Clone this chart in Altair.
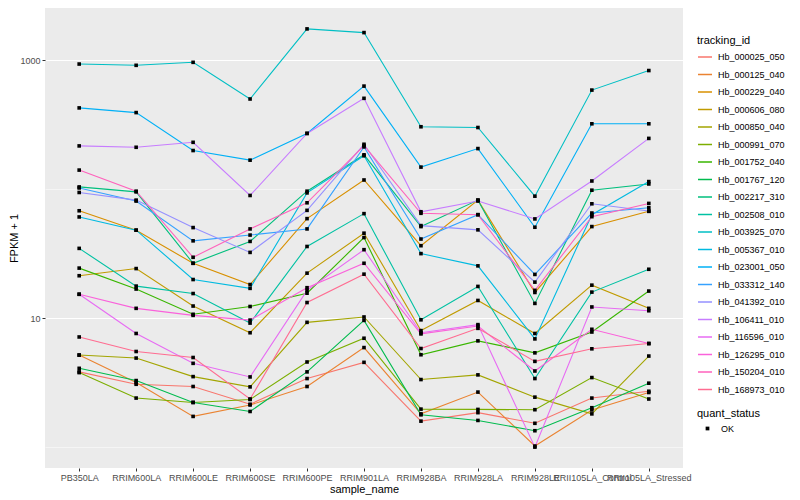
import altair as alt
import pandas as pd

samples = ["PB350LA", "RRIM600LA", "RRIM600LE", "RRIM600SE", "RRIM600PE", "RRIM901LA",
           "RRIM928BA", "RRIM928LA", "RRIM928LE", "RRII105LA_Control", "RRII105LA_Stressed"]

tracking_ids = ["Hb_000025_050", "Hb_000125_040", "Hb_000229_040", "Hb_000606_080",
                "Hb_000850_040", "Hb_000991_070", "Hb_001752_040", "Hb_001767_120",
                "Hb_002217_310", "Hb_002508_010", "Hb_003925_070", "Hb_005367_010",
                "Hb_023001_050", "Hb_033312_140", "Hb_041392_010", "Hb_106411_010",
                "Hb_116596_010", "Hb_126295_010", "Hb_150204_010", "Hb_168973_010"]

# FPKM + 1 per sample (order of `samples`)
hb_000025_050 = [3.83, 3.07, 2.95, 2.15, 3.40, 4.54, 1.59, 1.85, 1.53, 2.40, 2.71]
hb_000125_040 = [5.17, 3.17, 1.73, 2.12, 2.95, 5.91, 1.81, 2.67, 1.02, 1.94, 2.65]
hb_000229_040 = [67.9, 48.0, 26.6, 18.2, 59.0, 117.6, 36.4, 82.1, 15.8, 51.2, 67.2]
hb_000606_080 = [21.3, 24.2, 12.4, 7.7, 22.3, 45.5, 8.0, 13.7, 7.6, 18.0, 11.9]
hb_000850_040 = [5.17, 4.90, 3.52, 2.93, 9.27, 10.2, 3.34, 3.63, 2.44, 1.81, 5.08]
hb_000991_070 = [3.78, 2.40, 2.22, 2.34, 4.57, 6.98, 1.97, 1.96, 1.95, 3.46, 2.36]
hb_001752_040 = [24.4, 16.8, 10.7, 12.3, 15.6, 42.1, 5.2, 6.66, 5.38, 7.8, 16.2]
hb_001767_120 = [4.08, 3.28, 2.22, 1.89, 3.83, 9.6, 1.78, 1.61, 1.34, 2.02, 3.13]
hb_002217_310 = [103.9, 95.1, 26.6, 39.3, 96.3, 184.3, 51.2, 82.1, 13.0, 98.0, 109.5]
hb_002508_010 = [34.7, 17.7, 15.5, 9.15, 35.9, 64.5, 9.7, 17.6, 3.40, 15.9, 23.9]
hb_003925_070 = [931, 910, 960, 499, 1743, 1632, 304, 300, 88.1, 585, 829]
hb_005367_010 = [60.8, 48.0, 19.9, 17.0, 93.4, 181.1, 31.6, 25.4, 6.9, 63.3, 114.3]
hb_023001_050 = [425.6, 391.5, 198.9, 167.5, 270, 628, 148, 206, 50.6, 320.6, 320.6]
hb_033312_140 = [102, 80.7, 39.7, 44.0, 49.1, 212.3, 41.0, 63.3, 21.8, 65.2, 71.6]
hb_041392_010 = [94.1, 82.1, 50.3, 32.3, 68.4, 222.4, 52.1, 48.3, 19.0, 76.9, 67.6]
hb_106411_010 = [216, 210.8, 230.3, 89.2, 270, 505, 66.7, 80.7, 58.7, 115.5, 247]
hb_116596_010 = [15.3, 7.6, 4.46, 3.50, 16.4, 33.9, 7.7, 8.9, 1.0, 12.2, 11.4]
hb_126295_010 = [15.3, 11.9, 10.5, 9.65, 17.2, 26.6, 7.54, 8.68, 3.89, 8.19, 6.35]
hb_150204_010 = [140.3, 96.3, 29.6, 49.1, 78.3, 217.3, 64.9, 63.3, 16.4, 61.1, 77.4]
hb_168973_010 = [7.14, 5.51, 4.95, 2.36, 13.2, 21.9, 5.81, 8.33, 4.62, 5.78, 6.35]

series_values = [hb_000025_050, hb_000125_040, hb_000229_040, hb_000606_080,
                 hb_000850_040, hb_000991_070, hb_001752_040, hb_001767_120,
                 hb_002217_310, hb_002508_010, hb_003925_070, hb_005367_010,
                 hb_023001_050, hb_033312_140, hb_041392_010, hb_106411_010,
                 hb_116596_010, hb_126295_010, hb_150204_010, hb_168973_010]

palette = ["#F8766D", "#EA8331", "#D89000", "#C09B00", "#A3A500", "#7CAE00", "#39B600",
           "#00BB4E", "#00BF7D", "#00C1A3", "#00BFC4", "#00BAE0", "#00B0F6", "#35A2FF",
           "#9590FF", "#C77CFF", "#E76BF3", "#FA62DB", "#FF62BC", "#FF6C91"]

y_breaks = [1, 10, 100, 1000]

rows = []
for tid, vals in zip(tracking_ids, series_values):
    for i, (s, v) in enumerate(zip(samples, vals)):
        rows.append({"sample_name": s, "idx": i, "tracking_id": tid,
                     "fpkm1": v, "quant_status": "OK"})
df = pd.DataFrame(rows)

FONT = "Liberation Sans"
major_test = "datum.value == 10 || datum.value == 1000"

x = alt.X("sample_name:N", sort=samples,
          scale=alt.Scale(type="point", padding=0.6),
          axis=alt.Axis(title="sample_name", labelAngle=0, labelOverlap=False,
                        labelLimit=0, gridColor="white", gridWidth=1.1,
                        labelPadding=2, titlePadding=1))
y = alt.Y("fpkm1:Q",
          scale=alt.Scale(type="log", domain=[0.689, 2531], nice=False),
          axis=alt.Axis(title="FPKM + 1", values=y_breaks,
                        labelExpr="datum.value == 10 ? '10' : (datum.value == 1000 ? '1000' : '')",
                        gridColor="white",
                        gridWidth={"condition": {"test": major_test, "value": 1.1}, "value": 0.5},
                        tickColor={"condition": {"test": major_test, "value": "#333333"},
                                   "value": "rgba(0,0,0,0)"},
                        labelPadding=2, titlePadding=0))

lines = alt.Chart(df).mark_line(strokeWidth=1.1).encode(
    x=x, y=y,
    order=alt.Order("idx:Q"),
    color=alt.Color("tracking_id:N",
                    scale=alt.Scale(domain=tracking_ids, range=palette),
                    legend=alt.Legend(title="tracking_id", orient="none",
                                      legendX=652, legendY=27,
                                      symbolType="stroke", symbolStrokeWidth=1.5,
                                      symbolSize=196, rowPadding=4.5,
                                      labelOffset=5, titlePadding=3))
)

points = alt.Chart(df).mark_point(filled=True, color="black", opacity=1, size=13).encode(
    x=x, y=y,
    detail="tracking_id:N",
    shape=alt.Shape("quant_status:N",
                    scale=alt.Scale(domain=["OK"], range=["square"]),
                    legend=alt.Legend(title="quant_status", orient="none",
                                      legendX=652, legendY=400,
                                      symbolSize=14, symbolFillColor="black",
                                      symbolStrokeColor="black",
                                      symbolOffset=6, labelOffset=9, titlePadding=5))
)

chart = alt.layer(lines, points).properties(
    width=638, height=460,
    autosize=alt.AutoSizeParams(type="none"),
    padding={"left": 37, "top": 0, "right": 105, "bottom": 32},
).configure(font=FONT).configure_view(
    fill="#EBEBEB", strokeWidth=0
).configure_axis(
    domain=False, labelFont=FONT, titleFont=FONT, labelColor="#4D4D4D",
    labelFontSize=9, titleFontSize=11, titleFontWeight="normal", titleColor="black",
    tickColor="#333333", tickSize=3, tickWidth=1
).configure_legend(
    titleFont=FONT, labelFont=FONT, titleFontSize=11, titleFontWeight="normal",
    titleColor="black", labelFontSize=9, labelColor="black"
)

chart.save("out.html", embed_options={"renderer": "svg", "actions": False})
